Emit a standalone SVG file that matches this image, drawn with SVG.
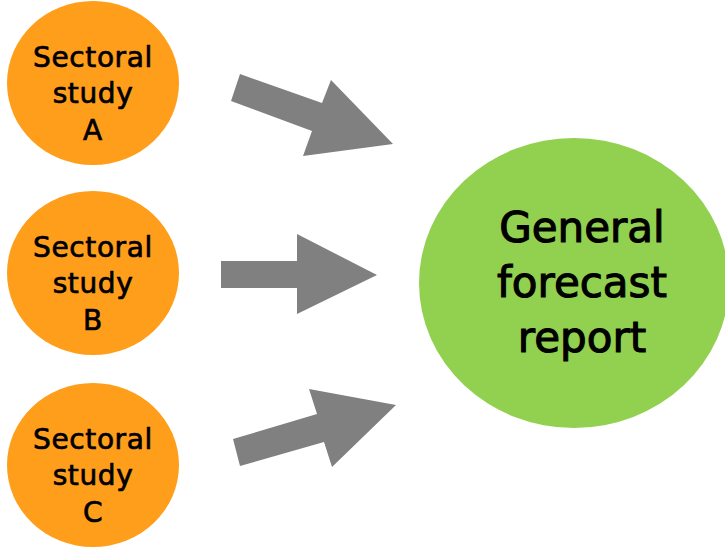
<svg xmlns="http://www.w3.org/2000/svg" width="725" height="547" viewBox="0 0 725 547">
<style>
.src{fill:#FF9E1B}
.dst{fill:#92D050}
.arr{fill:#808080}
text{font-family:"DejaVu Sans","Liberation Sans",sans-serif;fill:#000;stroke:#000;text-anchor:middle}
.s{font-size:28px;letter-spacing:0.6px;stroke-width:0.7px}
.b{font-size:42px;stroke-width:1.1px}
</style>
<rect width="725" height="547" fill="#fff"/>
<g id="studyA">
<ellipse class="src" cx="93" cy="83" rx="86" ry="82"/>
<text class="s" x="93" y="67">Sectoral</text>
<text class="s" x="93" y="103">study</text>
<text class="s" x="93" y="140">A</text>
</g>
<g id="studyB">
<ellipse class="src" cx="93" cy="273" rx="86" ry="82"/>
<text class="s" x="93" y="257">Sectoral</text>
<text class="s" x="93" y="293">study</text>
<text class="s" x="93" y="330">B</text>
</g>
<g id="studyC">
<ellipse class="src" cx="93" cy="465" rx="86" ry="82"/>
<text class="s" x="93" y="449">Sectoral</text>
<text class="s" x="93" y="485">study</text>
<text class="s" x="93" y="522">C</text>
</g>
<g id="report">
<ellipse class="dst" cx="574" cy="283" rx="155" ry="145"/>
<text class="b" x="582" y="242">General</text>
<text class="b" x="582" y="297">forecast</text>
<text class="b" x="582" y="352">report</text>
</g>
<g id="connectors">
<polygon class="arr" points="240,74 322,103 331,80 393,144 303,156 312,131 231,101"/>
<polygon class="arr" points="221,261 297,261 297,234 377,275 297,314 297,288 221,288"/>
<polygon class="arr" points="233,439 317,414 309,389 396,405 332,467 324,442 240,466"/>
</g>
</svg>
